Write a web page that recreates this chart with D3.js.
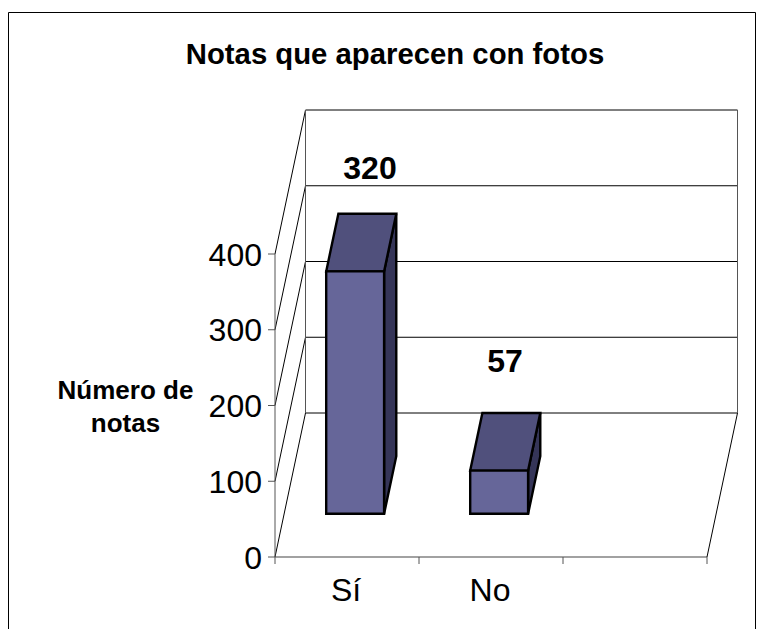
<!DOCTYPE html>
<html><head><meta charset="utf-8">
<script src="https://cdn.jsdelivr.net/npm/d3@7/dist/d3.min.js"></script>
<style>html,body{margin:0;padding:0;background:#fff}svg{display:block}text{font-family:"Liberation Sans",Arial,sans-serif;fill:#000}</style>
</head><body><div id="c"></div>
<script>
const categories = ["Sí", "No", ""];
const values = [320, 57, null];
const yTicks = [0, 100, 200, 300, 400];
const titleText = "Notas que aparecen con fotos";
const yTitle = ["Número de", "notas"];

const W = 764, H = 629;
const svg = d3.select("#c").append("svg").attr("width", W).attr("height", H);

const x = d3.scaleBand().domain(categories).range([275, 707]);
const y = d3.scaleLinear().domain([0, 400]).range([557, 254]);
const z = d3.scaleLinear().domain([0, 1]).range([0, 1]);
const depth = {dx: 30.5, dy: -144};
const barFrac = {start: 0.292, end: 0.694}, zFront = 0.3, zBack = 0.7;
const P = (px, v, d) => [px + z(d) * depth.dx, y(v) + z(d) * depth.dy];
const poly = pts => "M" + pts.map(p => p.join(",")).join("L") + "Z";
const seg = (a, b, stroke, sw) => svg.append("line").attr("x1", a[0]).attr("y1", a[1]).attr("x2", b[0]).attr("y2", b[1]).attr("stroke", stroke).attr("stroke-width", sw);

svg.append("path").attr("d", "M8.5,629V12.5H755.5V629").attr("fill", "none").attr("stroke", "#000").attr("stroke-width", 1);

const [xL, xR] = x.range();
const vMax = yTicks[yTicks.length - 1];
yTicks.forEach(t => {
  seg(P(xL, t, 0), P(xL, t, 1), "#000", 1);
  seg(P(xL, t, 1), P(xR, t, 1), "#000", 1);
});
seg(P(xL, 0, 1), P(xL, vMax, 1), "#555", 1);
seg(P(xR, 0, 1), P(xR, vMax, 1), "#555", 1);
seg(P(xL, 0, 0), P(xL, vMax, 0), "#555", 1);
seg(P(xL, 0, 0), P(xR, 0, 0), "#444", 1.2);
seg(P(xR, 0, 0), P(xR, 0, 1), "#000", 1);

yTicks.forEach(t => {
  seg([xL - 7, y(t)], [xL, y(t)], "#555", 1);
  svg.append("text").attr("x", xL - 13).attr("y", y(t) + 11.5).attr("text-anchor", "end").attr("font-size", 32).text(t);
});
categories.concat(["__end"]).forEach((c, i) => {
  const px = xL + i * x.bandwidth();
  seg([px, y(0)], [px, y(0) + 7], "#555", 1);
});
categories.forEach((c, i) => {
  if (c) svg.append("text").attr("x", x(c) + x.bandwidth() / 2 - 1).attr("y", 601).attr("text-anchor", "middle").attr("font-size", 32).text(c);
});

categories.forEach((c, i) => {
  const v = values[i];
  if (v == null) return;
  const a = x(c) + barFrac.start * x.bandwidth(), b = x(c) + barFrac.end * x.bandwidth();
  const g = svg.append("g").attr("stroke", "#000").attr("stroke-width", 2.4).attr("stroke-linejoin", "miter");
  g.append("path").attr("fill", "#353558").attr("d", poly([P(b, 0, zFront), P(b, v, zFront), P(b, v, zBack), P(b, 0, zBack)]));
  g.append("path").attr("fill", "#50507c").attr("d", poly([P(a, v, zFront), P(a, v, zBack), P(b, v, zBack), P(b, v, zFront)]));
  g.append("path").attr("fill", "#666699").attr("d", poly([P(a, 0, zFront), P(a, v, zFront), P(b, v, zFront), P(b, 0, zFront)]));
});

const labelPos = [[370, 179], [505, 372]];
values.forEach((v, i) => {
  if (v == null) return;
  svg.append("text").attr("x", labelPos[i][0]).attr("y", labelPos[i][1]).attr("text-anchor", "middle").attr("font-size", 32).attr("font-weight", "bold").text(v);
});

svg.append("text").attr("x", 395).attr("y", 64).attr("text-anchor", "middle").attr("font-size", 29.3).attr("font-weight", "bold").text(titleText);
yTitle.forEach((s, i) => svg.append("text").attr("x", 125.5).attr("y", 399 + i * 33).attr("text-anchor", "middle").attr("font-size", 26).attr("font-weight", "bold").text(s));
</script></body></html>
